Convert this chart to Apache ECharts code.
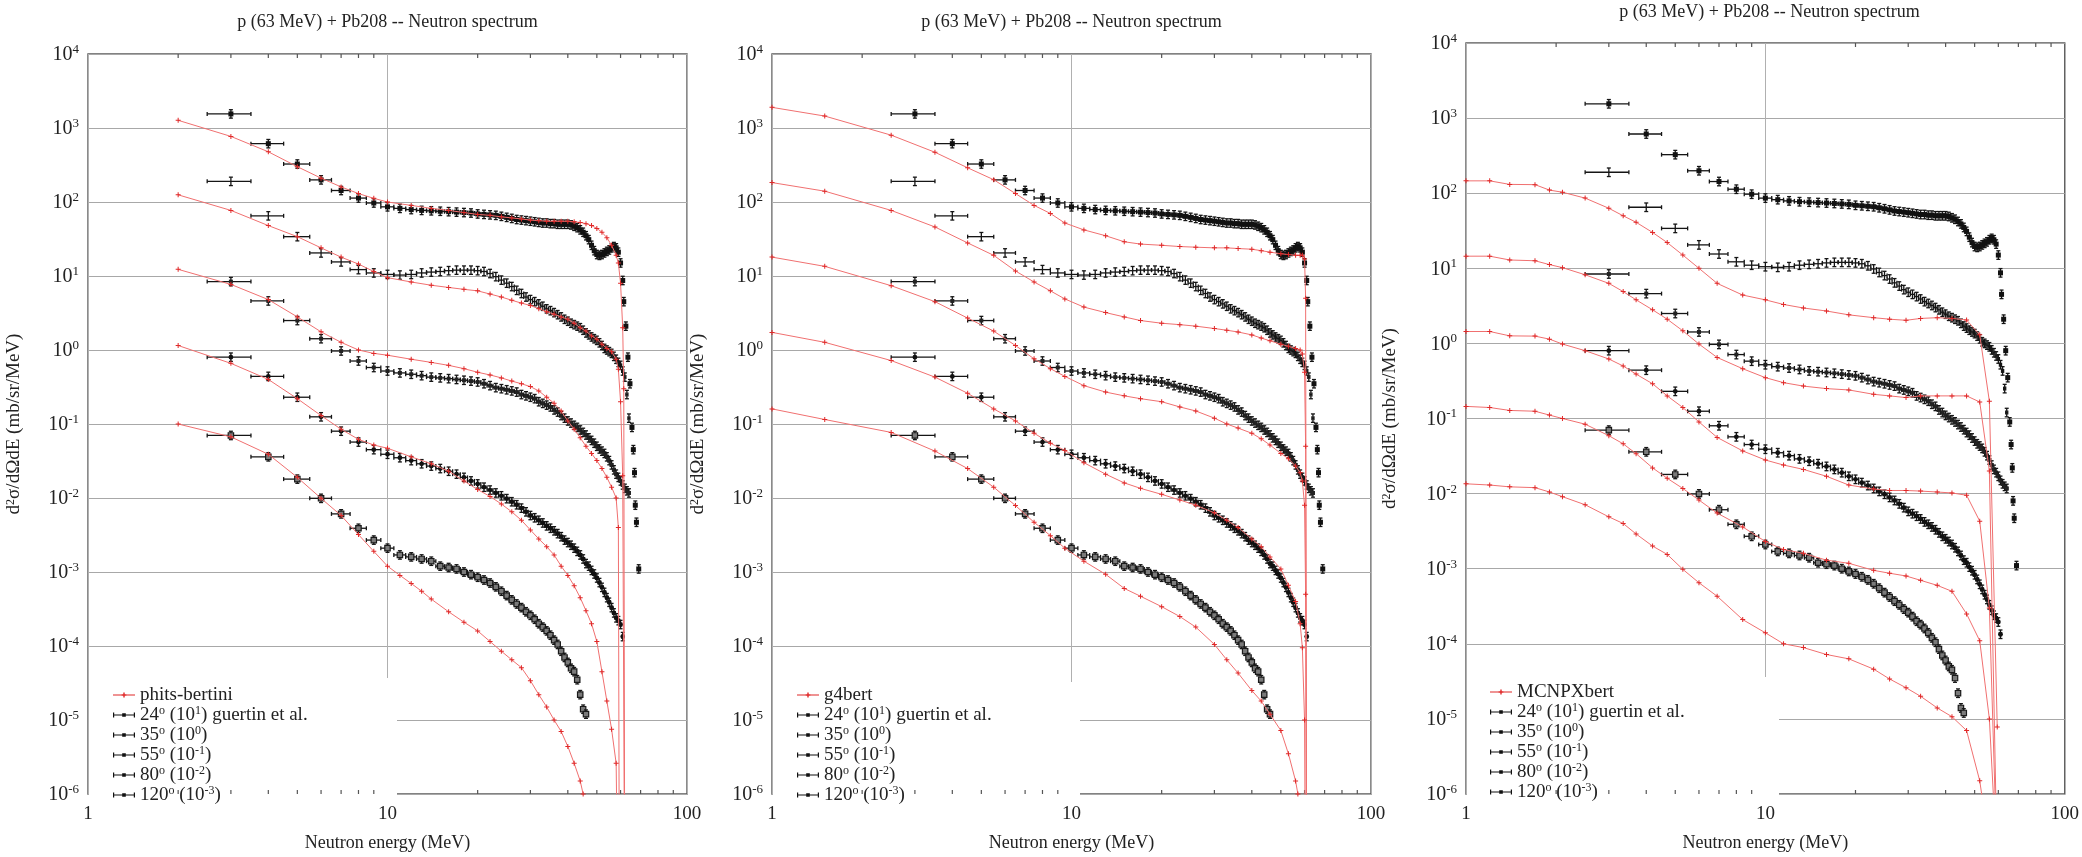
<!DOCTYPE html>
<html><head><meta charset="utf-8">
<script src="https://cdn.jsdelivr.net/npm/echarts@6/dist/echarts.min.js"></script>
<style>html,body{margin:0;padding:0;background:#fff}#c{width:2082px;height:857px}</style>
</head><body><div id="c"></div>
<script>
// ---------- DATA ----------
const titleText = 'p (63 MeV) + Pb208 -- Neutron spectrum';
const xName = 'Neutron energy (MeV)';
const yName = 'd{s|2}σ/dΩdE (mb/sr/MeV)';
const models = ['phits-bertini', 'g4bert', 'MCNPXbert'];
const expNames = ['24° (10^1) guertin et al.', '35° (10^0)', '55° (10^-1)', '80° (10^-2)', '120° (10^-3)'];
const expLabels = ['24{s|o} (10{s|1}) guertin et al.', '35{s|o} (10{s|0})', '55{s|o} (10{s|-1})', '80{s|o} (10{s|-2})', '120{s|o} (10{s|-3})'];
const minorTickE = [2,3,4,5,6,7,8,9,20,30,40,50,60,70,80,90];

// experimental data (guertin et al.) [E MeV, value]
const exp24 = [[3,1550],[4,614],[5,326],[6,199],[7,143],[8,113],[9,97],[10,86],[11,82],[12,79],[13,77],[14,76],[15,75],[16,74],[17,73],[18,72],[19,71],[20,69],[21,68],[22,67],[23,66],[24,64],[25,62],[26,60],[27,58],[28,57],[29,56],[30,55],[31,54],[32,53],[33,52],[34,52],[35,51],[36,51],[37,50],[38,50],[39,50],[40,50],[41,49],[42,47],[43,45],[44,42],[45,39],[46,35],[47,31],[48,26],[49,22],[50,19.5],[51,19],[52,19.5],[53,20.5],[54,21.5],[55,22.5],[56,24],[57,25],[58,24],[59,21],[60,15],[61,8.7],[61.5,4.5],[62.5,2.1],[63.5,0.8],[64.5,0.35],[65.5,0.09],[66.2,0.045],[66.8,0.022],[67.2,0.008],[67.8,0.0047],[69,0.0011]];
const exp35 = [[3,190],[4,65],[5,34],[6,20.5],[7,15.5],[8,12.2],[9,11],[10,10.5],[11,10.3],[12,10.5],[13,11],[14,11.3],[15,11.5],[16,11.8],[17,12],[18,12],[19,12],[20,11.8],[21,11.5],[22,10.8],[23,9.8],[24,8.8],[25,8],[26,7.2],[27,6.4],[28,5.8],[29,5.2],[30,4.8],[31,4.5],[32,4.2],[33,3.9],[34,3.6],[35,3.4],[36,3.2],[37,3.0],[38,2.8],[39,2.6],[40,2.45],[41,2.3],[42,2.2],[43,2.1],[44,2.0],[45,1.85],[46,1.7],[47,1.6],[48,1.5],[49,1.42],[50,1.35],[51,1.25],[52,1.15],[53,1.05],[54,1.0],[55,0.95],[56,0.9],[57,0.82],[58,0.75],[59,0.68],[60,0.62],[61,0.52],[62,0.43],[63,0.25],[64,0.12]];
const exp55 = [[3,8.4],[4,4.6],[5,2.5],[6,1.42],[7,0.97],[8,0.71],[9,0.58],[10,0.52],[11,0.49],[12,0.47],[13,0.45],[14,0.43],[15,0.42],[16,0.41],[17,0.40],[18,0.39],[19,0.38],[20,0.37],[21,0.35],[22,0.33],[23,0.31],[24,0.3],[25,0.29],[26,0.28],[27,0.27],[28,0.25],[29,0.24],[30,0.23],[31,0.22],[32,0.2],[33,0.19],[34,0.18],[35,0.17],[36,0.155],[37,0.145],[38,0.13],[39,0.12],[40,0.11],[41,0.103],[42,0.096],[43,0.09],[44,0.083],[45,0.077],[46,0.071],[47,0.065],[48,0.06],[49,0.055],[50,0.05],[51,0.046],[52,0.043],[53,0.04],[54,0.036],[55,0.032],[56,0.028],[57,0.024],[58,0.021],[59,0.019],[60,0.017],[61,0.015],[62,0.0135],[63,0.0125],[64,0.0117]];
const exp80 = [[3,0.8],[4,0.44],[5,0.23],[6,0.125],[7,0.08],[8,0.057],[9,0.045],[10,0.039],[11,0.035],[12,0.032],[13,0.029],[14,0.027],[15,0.025],[16,0.023],[17,0.021],[18,0.019],[19,0.017],[20,0.0155],[21,0.014],[22,0.0128],[23,0.0117],[24,0.0107],[25,0.0098],[26,0.0089],[27,0.0081],[28,0.0073],[29,0.0065],[30,0.0058],[31,0.0054],[32,0.005],[33,0.0046],[34,0.0042],[35,0.0039],[36,0.0036],[37,0.0033],[38,0.003],[39,0.0027],[40,0.0025],[41,0.0023],[42,0.0021],[43,0.0019],[44,0.0017],[45,0.0015],[46,0.0013],[47,0.0012],[48,0.00105],[49,0.00094],[50,0.00083],[51,0.00072],[52,0.00062],[53,0.00053],[54,0.00045],[55,0.00039],[56,0.00033],[57,0.00028],[58,0.00024],[59,0.00022],[60,0.000195],[61,0.000134]];
const exp120 = [[3,0.07],[4,0.036],[5,0.018],[6,0.0099],[7,0.0061],[8,0.0039],[9,0.0027],[10,0.0021],[11,0.0017],[12,0.0016],[13,0.0015],[14,0.0014],[15,0.0012],[16,0.00115],[17,0.0011],[18,0.001],[19,0.00092],[20,0.00085],[21,0.00078],[22,0.00071],[23,0.00063],[24,0.00055],[25,0.00048],[26,0.00042],[27,0.00037],[28,0.00033],[29,0.00029],[30,0.00026],[31,0.00023],[32,0.0002],[33,0.00018],[34,0.00016],[35,0.00014],[36,0.00012],[37,0.000105],[38,0.000085],[39,0.00007],[40,0.00006],[41,0.00005],[42,0.000045],[43,0.000035],[44,0.000022],[45,0.000014],[46,0.000012]];

// phits-bertini
const phits24 = [[2,1270],[3,770],[4,477],[5,300],[6,210],[7,160],[8,130],[9,112],[10,100],[12,90],[14,82],[16,77],[18,72],[20,68],[22,66],[24,63],[26,61],[28,59],[30,57],[32,56],[34,55],[36,55],[38,55],[40,55],[42,54],[44,53],[46,51],[48,48],[50,44],[52,39],[54,33],[56,26],[58,19],[59,15],[60,8],[61,2],[61.5,0.3],[62,1e-8]];
const phits35 = [[2,125],[3,77],[4,48],[5,34],[6,24],[7,18],[8,14.5],[9,11.5],[10,9.5],[12,8.3],[14,7.5],[16,7],[18,6.6],[20,6.3],[22,5.7],[24,5.2],[26,4.7],[28,4.3],[30,4.0],[32,3.6],[34,3.3],[36,3.05],[38,2.8],[40,2.6],[42,2.3],[44,2.0],[46,1.8],[48,1.55],[50,1.4],[52,1.2],[54,1.05],[56,0.95],[58,0.75],[59,0.55],[60,0.2],[61,0.02],[62,1e-8]];
const phits55 = [[2,12.3],[3,7.7],[4,4.8],[5,2.8],[6,1.76],[7,1.27],[8,1.0],[9,0.9],[10,0.85],[12,0.75],[14,0.68],[16,0.62],[18,0.56],[20,0.5],[22,0.46],[24,0.42],[26,0.38],[28,0.35],[30,0.32],[32,0.28],[34,0.23],[36,0.19],[38,0.15],[40,0.11],[42,0.085],[44,0.065],[46,0.05],[48,0.04],[50,0.032],[52,0.025],[54,0.019],[56,0.014],[58,0.01],[59,0.004],[59.5,1e-8]];
const phits80 = [[2,1.15],[3,0.66],[4,0.4],[5,0.22],[6,0.13],[7,0.085],[8,0.062],[9,0.052],[10,0.047],[12,0.036],[14,0.029],[16,0.023],[18,0.017],[20,0.013],[22,0.0105],[24,0.0083],[26,0.0065],[28,0.005],[30,0.0037],[32,0.0028],[34,0.0022],[36,0.0017],[38,0.0012],[40,0.0009],[42,0.00065],[44,0.00045],[46,0.0003],[48,0.0002],[50,0.000115],[52,0.000045],[54,0.000018],[56,0.0000075],[58,0.0000026],[59,1e-8]];
const phits120 = [[2,0.1],[3,0.067],[4,0.039],[5,0.019],[6,0.0099],[7,0.0058],[8,0.0032],[9,0.0019],[10,0.0012],[11,0.0009],[12,0.0007],[13,0.00055],[14,0.00043],[16,0.00029],[18,0.00021],[20,0.00016],[22,0.000115],[24,0.000085],[26,0.000065],[28,0.000051],[30,0.000034],[32,0.000022],[34,0.000015],[36,0.00001],[38,0.000007],[40,0.0000044],[42,0.0000026],[44,0.0000015],[45,0.000001],[46,0.0000007]];

// g4bert
const g4_24 = [[1,1900],[1.5,1450],[2.5,800],[3.5,470],[4.5,290],[5.5,200],[6.5,130],[7.5,90],[8.5,70],[9.5,52],[11,42],[13,35],[15,29],[17,27],[20,26],[23,25],[26,24.5],[30,24],[33,24],[36,23.5],[40,23],[43,22],[46,21],[50,20],[53,19.5],[56,19],[58,19],[59,19],[60,17],[60.5,5],[61,1e-8]];
const g4_35 = [[1,183],[1.5,140],[2.5,77],[3.5,46],[4.5,28],[5.5,19],[6.5,11.7],[7.5,8.3],[8.5,6.3],[9.5,4.9],[11,3.8],[13,3.2],[15,2.8],[17,2.5],[20,2.3],[23,2.2],[26,2.1],[30,1.95],[33,1.85],[36,1.75],[40,1.6],[43,1.45],[46,1.33],[50,1.2],[53,1.12],[56,1.05],[58,1.0],[59,0.88],[60,0.5],[60.5,0.05],[61,1e-8]];
const g4_55 = [[1,18],[1.5,13.5],[2.5,7.4],[3.5,4.5],[4.5,2.7],[5.5,1.8],[6.5,1.15],[7.5,0.76],[8.5,0.56],[9.5,0.44],[11,0.33],[13,0.27],[15,0.24],[17,0.22],[20,0.2],[23,0.17],[26,0.15],[30,0.12],[33,0.1],[36,0.088],[40,0.075],[43,0.063],[46,0.052],[50,0.04],[53,0.034],[56,0.027],[58,0.022],[59,0.017],[60,0.008],[60.5,0.0005],[61,1e-8]];
const g4_80 = [[1,1.73],[1.5,1.27],[2.5,0.72],[3.5,0.43],[4.5,0.26],[5.5,0.16],[6.5,0.11],[7.5,0.075],[8.5,0.055],[9.5,0.044],[11,0.03],[13,0.021],[15,0.016],[17,0.0135],[20,0.0112],[23,0.0094],[26,0.008],[30,0.0063],[33,0.005],[36,0.004],[40,0.0028],[43,0.0022],[46,0.0016],[50,0.0011],[53,0.00066],[56,0.0004],[58,0.0002],[59,0.000095],[60,0.00001],[60.5,1e-8]];
const g4_120 = [[1,0.16],[1.5,0.115],[2.5,0.077],[3.5,0.043],[4.5,0.025],[5.5,0.014],[6.5,0.0079],[7.5,0.0047],[8.5,0.0031],[9.5,0.0021],[11,0.0014],[13,0.00093],[15,0.0006],[17,0.00047],[20,0.00034],[23,0.00025],[26,0.00018],[30,0.000105],[33,0.000065],[36,0.000043],[40,0.000025],[43,0.000018],[46,0.000012],[50,0.0000072],[53,0.0000035],[56,0.0000015],[57,0.000001],[58,0.0000005]];

// MCNPXbert
const mcnpE = [1,1.2,1.4,1.7,1.9,2.1,2.5,3,3.35,3.7,4.2,4.7,5.3,6,6.9,8.4,10,11.5,13.4,16,19,23,26,29.5,33,37.5,42,47,52,56,59.5];
const mcnp24 = [146,146,131,130,110,103,86,63,50,41,30,22,15,10,6.3,4.4,3.8,3.3,2.96,2.7,2.4,2.2,2.1,2.03,2.15,2.2,2.15,2.05,1.3,0.17,7.8e-6];
const mcnp35 = [14.5,14.5,12.9,12.6,11.2,10.2,8.2,6.3,4.9,3.8,2.8,2.1,1.47,0.98,0.65,0.46,0.35,0.30,0.27,0.25,0.24,0.21,0.2,0.19,0.2,0.2,0.2,0.2,0.166,0.02,1e-7];
const mcnp55 = [1.44,1.44,1.26,1.25,1.14,0.98,0.8,0.62,0.5,0.39,0.29,0.2,0.14,0.09,0.056,0.037,0.028,0.024,0.021,0.017,0.013,0.0115,0.011,0.011,0.0108,0.0105,0.0102,0.0095,0.0043,0.0003,1e-7];
const mcnp80 = [0.145,0.14,0.128,0.125,0.111,0.1,0.084,0.059,0.046,0.034,0.022,0.016,0.0117,0.0082,0.0055,0.0036,0.0023,0.0018,0.0016,0.0013,0.00118,0.00095,0.00087,0.0008,0.0007,0.0006,0.0005,0.00025,0.00011,0.00001,1e-7];
const mcnp120 = [0.0135,0.013,0.0123,0.012,0.0105,0.0091,0.0071,0.0049,0.004,0.0029,0.002,0.00155,0.00098,0.00065,0.00043,0.00021,0.00014,0.0001,0.000089,0.000072,0.000063,0.000046,0.000034,0.000026,0.00002,0.000014,0.0000107,0.000007,0.0000015,0.0000002,1e-8];

// ---------- BUILD ----------
const FONT = '"Liberation Serif", "DejaVu Serif", serif';
const pair = (xs, ys) => xs.map((x, i) => [x, ys[i]]);
const sims = [
  [phits24, phits35, phits55, phits80, phits120],
  [g4_24, g4_35, g4_55, g4_80, g4_120],
  [pair(mcnpE, mcnp24), pair(mcnpE, mcnp35), pair(mcnpE, mcnp55), pair(mcnpE, mcnp80), pair(mcnpE, mcnp120)]
];
const exps = [exp24, exp35, exp55, exp80, exp120];
const layout = [
  {grid: {left: 88, top: 54, width: 599, height: 747}, titleY: 13, box: [89, 678, 308, 122], legend: {left: 108, top: 680}},
  {grid: {left: 772, top: 54, width: 599, height: 747}, titleY: 13, box: [773, 682, 307, 118], legend: {left: 792, top: 680}},
  {grid: {left: 1466, top: 43, width: 607, height: 756}, titleY: 3, box: [1467, 677, 312, 121], legend: {left: 1485, top: 677}}
];
const expMarker = ['sq', 'none', 'sq4', 'circ', 'open'];

function expRender(kind) {
  return function (params, api) {
    const E = api.value(0), v = api.value(1);
    const c = api.coord([E, v]);
    const l = api.coord([E - 0.5, v]), r = api.coord([E + 0.5, v]);
    const t = api.coord([E, v * 1.14]), b = api.coord([E, v / 1.14]);
    const ls = {stroke: '#151515', lineWidth: 1.3};
    const ch = [
      {type: 'line', shape: {x1: l[0], y1: c[1], x2: r[0], y2: c[1]}, style: ls},
      {type: 'line', shape: {x1: c[0], y1: t[1], x2: c[0], y2: b[1]}, style: ls},
      {type: 'line', shape: {x1: l[0], y1: c[1] - 2, x2: l[0], y2: c[1] + 2}, style: ls},
      {type: 'line', shape: {x1: r[0], y1: c[1] - 2, x2: r[0], y2: c[1] + 2}, style: ls},
      {type: 'line', shape: {x1: c[0] - 2, y1: t[1], x2: c[0] + 2, y2: t[1]}, style: ls},
      {type: 'line', shape: {x1: c[0] - 2, y1: b[1], x2: c[0] + 2, y2: b[1]}, style: ls}
    ];
    if (kind === 'sq') ch.push({type: 'rect', shape: {x: c[0] - 2.5, y: c[1] - 2.5, width: 5, height: 5}, style: {fill: '#111'}});
    if (kind === 'sq4') ch.push({type: 'rect', shape: {x: c[0] - 2, y: c[1] - 2, width: 4, height: 4}, style: {fill: '#222'}});
    if (kind === 'circ') ch.push({type: 'circle', shape: {cx: c[0], cy: c[1], r: 2.4}, style: {fill: '#111'}});
    if (kind === 'open') ch.push({type: 'rect', shape: {x: c[0] - 2.7, y: c[1] - 2.7, width: 5.4, height: 5.4}, style: {fill: '#7a7a7a', stroke: '#1a1a1a', lineWidth: 1.2}});
    return {type: 'group', children: ch};
  };
}

function tickRender(params, api) {
  const E = api.value(0);
  const b0 = api.coord([E, 1e-6]), t0 = api.coord([E, 1e4]);
  const ls = {stroke: '#555', lineWidth: 1.2};
  return {type: 'group', children: [
    {type: 'line', shape: {x1: b0[0], y1: b0[1], x2: b0[0], y2: b0[1] - 4}, style: ls},
    {type: 'line', shape: {x1: t0[0], y1: t0[1], x2: t0[0], y2: t0[1] + 4}, style: ls}
  ]};
}

const tickRich = {
  b: {fontFamily: FONT, fontSize: 20, color: '#222', lineHeight: 22, verticalAlign: 'bottom'},
  s: {fontFamily: FONT, fontSize: 13, color: '#222', lineHeight: 13, verticalAlign: 'top'}
};
const nameRich = {
  s: {fontFamily: FONT, fontSize: 12, color: '#222', lineHeight: 12, verticalAlign: 'top'}
};
const redIcon = 'path://M0,4.6h22v0.8h-22z M10.3,2.6h1.4v4.8h-1.4z M8.6,4.3h4.8v1.4h-4.8z';
const barIcon = 'path://M0,4.4h22v1.2h-22z M0,2.6h1.2v4.8h-1.2z M20.8,2.6h1.2v4.8h-1.2z M9.2,3.2h3.6v3.6h-3.6z';
const labelMap = {};
expNames.forEach((n, i) => labelMap[n] = expLabels[i]);

const option = {
  animation: false,
  backgroundColor: '#fff',
  grid: [], xAxis: [], yAxis: [], series: [], legend: [], graphic: []
};

layout.forEach((L, p) => {
  option.grid.push(Object.assign({show: true, borderColor: '#5a5a5a', borderWidth: 1.4, backgroundColor: '#fff'}, L.grid));
  option.xAxis.push({
    type: 'log', logBase: 10, min: 1, max: 100, interval: 1, gridIndex: p,
    axisLine: {show: false}, axisTick: {show: false},
    splitLine: {show: true, lineStyle: {color: '#b0b0b0', width: 1}},
    axisLabel: {fontFamily: FONT, fontSize: 19, color: '#222', margin: 11},
    name: xName, nameLocation: 'middle', nameGap: 40,
    nameTextStyle: {fontFamily: FONT, fontSize: 18, color: '#222'}
  });
  option.yAxis.push({
    type: 'log', logBase: 10, min: 1e-6, max: 1e4, interval: 1, gridIndex: p,
    axisLine: {show: false}, axisTick: {show: false},
    splitLine: {show: true, lineStyle: {color: '#a8a8a8', width: 1}},
    axisLabel: {margin: 9, formatter: v => '{b|10}{s|' + Math.round(Math.log10(v)) + '}', rich: tickRich},
    name: yName, nameLocation: 'middle', nameGap: p === 2 ? 66 : 64,
    nameTextStyle: {fontFamily: FONT, fontSize: 19, color: '#222', rich: nameRich}
  });
  sims[p].forEach((d, k) => option.series.push({
    type: 'line', name: models[p], xAxisIndex: p, yAxisIndex: p, data: d, z: 3,
    symbol: 'path://M0,2h5v1h-5z M2,0h1v5h-1z', symbolSize: 5, showSymbol: true,
    lineStyle: {color: '#f07070', width: 1}, itemStyle: {color: '#e02828'}, clip: true
  }));
  exps.forEach((d, k) => option.series.push({
    type: 'custom', name: expNames[k], xAxisIndex: p, yAxisIndex: p, data: d, z: 2,
    renderItem: expRender(expMarker[k]), itemStyle: {color: '#111'}, clip: true
  }));
  option.series.push({
    type: 'custom', xAxisIndex: p, yAxisIndex: p, data: minorTickE.map(e => [e, 1]), z: 1,
    renderItem: tickRender, silent: true
  });
  option.legend.push({
    orient: 'vertical', left: L.legend.left, top: L.legend.top, itemGap: 0,
    itemWidth: 22, itemHeight: 10,
    data: [{name: models[p], icon: redIcon}].concat(expNames.map(n => ({name: n, icon: barIcon}))),
    formatter: n => labelMap[n] || n,
    textStyle: {fontFamily: FONT, fontSize: 19, color: '#222', lineHeight: 20,
      rich: {s: {fontFamily: FONT, fontSize: 12, color: '#222', lineHeight: 12, verticalAlign: 'top'}}},
    selectedMode: false
  });
  option.graphic.push({
    type: 'rect', z: 1, silent: true,
    shape: {x: L.box[0], y: L.box[1], width: L.box[2], height: L.box[3]},
    style: {fill: '#fff'}
  });
  option.graphic.push({
    type: 'text', z: 5, x: L.grid.left + L.grid.width / 2, y: L.titleY,
    style: {text: titleText, font: '18px "Liberation Serif"', fill: '#222', textAlign: 'center', align: 'center', textVerticalAlign: 'top', verticalAlign: 'top'}
  });
});

const chart = echarts.init(document.getElementById('c'));
chart.setOption(option);
</script>
</body></html>
